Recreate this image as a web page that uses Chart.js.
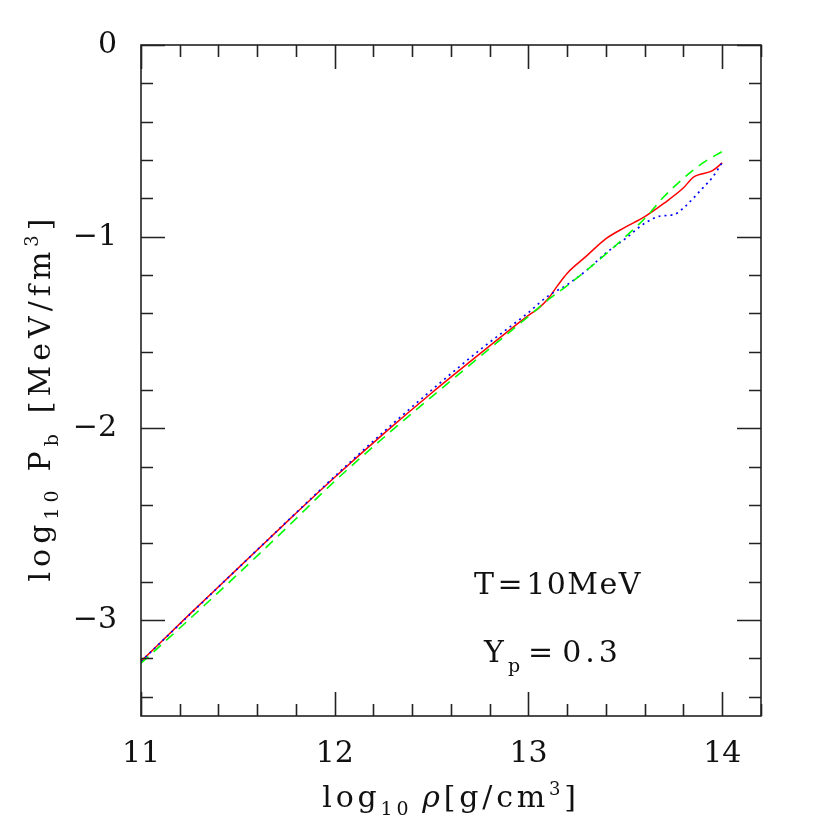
<!DOCTYPE html>
<html>
<head>
<meta charset="utf-8">
<script src="https://cdn.jsdelivr.net/npm/chart.js@4"></script>
<style>
  html, body { margin: 0; padding: 0; background: #fff; }
  #wrap { width: 830px; height: 830px; }
</style>
</head>
<body>
<div id="wrap"><canvas id="chart" width="830" height="830"></canvas></div>
<script>
// log10 rho [g/cm3] and log10 P_b [MeV/fm3]
const redRho = [11.0, 11.25, 11.5, 11.75, 12.0, 12.25, 12.5, 12.75, 13.0, 13.05, 13.1, 13.15, 13.2, 13.3, 13.4, 13.5, 13.6, 13.7, 13.8, 13.85, 13.95, 14.0];
const redP   = [-3.215, -2.97, -2.73, -2.49, -2.255, -2.03, -1.815, -1.61, -1.41, -1.375, -1.325, -1.255, -1.19, -1.10, -1.01, -0.95, -0.895, -0.825, -0.745, -0.69, -0.655, -0.615];

const blueRho = [11.0, 11.5, 12.0, 12.25, 12.5, 12.75, 13.0, 13.1, 13.2, 13.3, 13.4, 13.5, 13.6, 13.68, 13.75, 13.8, 13.85, 13.9, 13.95, 14.0];
const blueP   = [-3.215, -2.73, -2.25, -2.02, -1.80, -1.59, -1.395, -1.31, -1.25, -1.175, -1.085, -1.01, -0.93, -0.892, -0.885, -0.85, -0.80, -0.745, -0.69, -0.612];

const greenRho = [11.0, 11.25, 11.5, 11.75, 12.0, 12.25, 12.5, 12.75, 13.0, 13.1, 13.2, 13.3, 13.4, 13.5, 13.6, 13.7, 13.8, 13.9, 14.0];
const greenP   = [-3.225, -2.995, -2.76, -2.52, -2.275, -2.05, -1.835, -1.625, -1.415, -1.33, -1.255, -1.175, -1.09, -1.00, -0.905, -0.79, -0.695, -0.615, -0.555];

const xTicks = [11, 12, 13, 14];
const yTicks = [0, -1, -2, -3];

const SERIF = '"DejaVu Serif", "Liberation Serif", serif';

function pts(xs, ys) {
    return xs.map((x, i) => ({ x: x, y: ys[i] }));
}

function tickLabel(v) {
    return v < 0 ? '\u2212' + Math.abs(v) : String(v);
}

// text pieces with sub/superscripts and letter spacing, centred on x
function drawRich(ctx, parts, x, y, ls) {
    let total = 0;
    parts.forEach(p => {
        ctx.font = (p.italic ? 'italic ' : '') + p.size + 'px ' + SERIF;
        p.w = 0;
        for (const ch of p.t) p.w += ctx.measureText(ch).width + ls;
        p.w += (p.gap || 0);
        total += p.w;
    });
    let cx = x - total / 2;
    parts.forEach(p => {
        ctx.font = (p.italic ? 'italic ' : '') + p.size + 'px ' + SERIF;
        let px = cx;
        for (const ch of p.t) {
            ctx.fillText(ch, px, y + (p.dy || 0));
            px += ctx.measureText(ch).width + ls;
        }
        cx += p.w;
    });
}

const frame = {
    id: 'frame',
    afterDraw(chart) {
        const ctx = chart.ctx;
        const a = chart.chartArea;
        const xs = chart.scales.x, ys = chart.scales.y;
        ctx.save();
        ctx.strokeStyle = '#222';
        ctx.lineWidth = 1.6;
        ctx.strokeRect(a.left, a.top, a.right - a.left, a.bottom - a.top);

        ctx.beginPath();
        for (let v = Math.ceil(xs.min / 0.2 - 1e-6) * 0.2; v <= xs.max + 1e-6; v += 0.2) {
            const major = Math.abs(v - Math.round(v)) < 1e-6;
            const len = major ? 24 : 12;
            const px = Math.round(xs.getPixelForValue(v)) + 0.5;
            ctx.moveTo(px, a.bottom); ctx.lineTo(px, a.bottom - len);
            ctx.moveTo(px, a.top); ctx.lineTo(px, a.top + len);
        }
        for (let v = Math.ceil(ys.min / 0.2 - 1e-6) * 0.2; v <= ys.max + 1e-6; v += 0.2) {
            const major = Math.abs(v - Math.round(v)) < 1e-6;
            const len = major ? 24 : 12;
            const py = Math.round(ys.getPixelForValue(v)) + 0.5;
            ctx.moveTo(a.left, py); ctx.lineTo(a.left + len, py);
            ctx.moveTo(a.right, py); ctx.lineTo(a.right - len, py);
        }
        ctx.stroke();

        ctx.fillStyle = '#111';
        ctx.textBaseline = 'alphabetic';
        ctx.textAlign = 'left';

        // x title
        drawRich(ctx, [
            { t: 'log', size: 30 },
            { t: '10', size: 19, dy: 8, gap: 10 },
            { t: '\u03c1', size: 30, italic: true },
            { t: '[g/cm', size: 30 },
            { t: '3', size: 18, dy: -12 },
            { t: ']', size: 30 }
        ], (a.left + a.right) / 2, 807, 3.8);

        // y title
        ctx.save();
        ctx.translate(50, (a.top + a.bottom) / 2 + 17);
        ctx.rotate(-Math.PI / 2);
        drawRich(ctx, [
            { t: 'log', size: 30 },
            { t: '10', size: 19, dy: 8, gap: 14 },
            { t: 'P', size: 30 },
            { t: 'b', size: 19, dy: 8, gap: 16 },
            { t: '[MeV/fm', size: 30 },
            { t: '3', size: 18, dy: -12 },
            { t: ']', size: 30 }
        ], 0, 0, 5);
        ctx.restore();

        // annotations
        drawRich(ctx, [
            { t: 'T', size: 30, gap: 2 },
            { t: '=', size: 30, gap: 2 },
            { t: '10MeV', size: 30 }
        ], 558, 594, 1.5);
        drawRich(ctx, [
            { t: 'Y', size: 30 },
            { t: 'p', size: 19, dy: 10, gap: 4 },
            { t: '=', size: 30, gap: 5 },
            { t: '0.3', size: 30 }
        ], 553, 662, 4);
        ctx.restore();
    }
};

new Chart(document.getElementById('chart'), {
    type: 'line',
    data: {
        datasets: [
            {
                label: 'green',
                data: pts(greenRho, greenP),
                borderColor: '#00ff00',
                borderWidth: 1.6,
                borderDash: [10, 7],
                pointRadius: 0,
                fill: false,
                cubicInterpolationMode: 'monotone'
            },
            {
                label: 'blue',
                data: pts(blueRho, blueP),
                borderColor: '#0000ff',
                borderWidth: 1.7,
                borderDash: [2, 4],
                pointRadius: 0,
                fill: false,
                cubicInterpolationMode: 'monotone'
            },
            {
                label: 'red',
                data: pts(redRho, redP),
                borderColor: '#ff0000',
                borderWidth: 1.5,
                pointRadius: 0,
                fill: false,
                cubicInterpolationMode: 'monotone'
            }
        ]
    },
    options: {
        responsive: false,
        animation: false,
        layout: { padding: { top: 45, right: 69, left: 0, bottom: 0 } },
        plugins: {
            legend: { display: false },
            tooltip: { enabled: false }
        },
        scales: {
            x: {
                type: 'linear',
                min: 11,
                max: 14.2,
                grid: { display: false, drawTicks: false },
                border: { display: false },
                afterBuildTicks: s => { s.ticks = xTicks.map(v => ({ value: v })); },
                afterFit: s => { s.height = 114; },
                ticks: {
                    padding: 20,
                    maxRotation: 0,
                    color: '#111',
                    font: { family: SERIF, size: 30 },
                    callback: tickLabel
                }
            },
            y: {
                type: 'linear',
                min: -3.5,
                max: 0,
                grid: { display: false, drawTicks: false },
                border: { display: false },
                afterBuildTicks: s => { s.ticks = yTicks.map(v => ({ value: v })); },
                afterFit: s => { s.width = 141; },
                ticks: {
                    padding: 24,
                    color: '#111',
                    font: { family: SERIF, size: 30 },
                    callback: tickLabel
                }
            }
        }
    },
    plugins: [frame]
});
</script>
</body>
</html>
